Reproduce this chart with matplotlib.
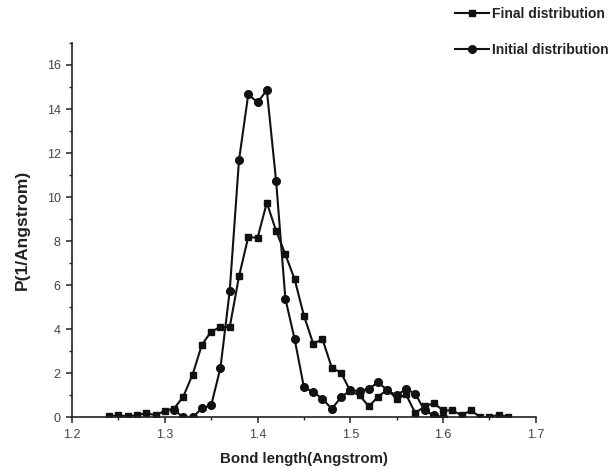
import matplotlib
matplotlib.use("Agg")
import matplotlib.pyplot as plt
from matplotlib.ticker import MultipleLocator

plt.rcParams['font.family'] = ['Liberation Sans', 'DejaVu Sans']

final_x = [1.24, 1.25, 1.26, 1.27, 1.28, 1.29, 1.30, 1.31, 1.32, 1.33, 1.34, 1.35,
           1.36, 1.37, 1.38, 1.39, 1.40, 1.41, 1.42, 1.43, 1.44, 1.45, 1.46, 1.47,
           1.48, 1.49, 1.50, 1.51, 1.52, 1.53, 1.54, 1.55, 1.56, 1.57, 1.58, 1.59,
           1.60, 1.61, 1.62, 1.63, 1.64, 1.65, 1.66, 1.67]
final_y = [0.05, 0.1, 0.05, 0.1, 0.2, 0.1, 0.3, 0.4, 0.95, 1.95, 3.3, 3.9,
           4.1, 4.1, 6.4, 8.2, 8.15, 9.75, 8.47, 7.4, 6.27, 4.62, 3.35, 3.55,
           2.26, 2.03, 1.2, 1.0, 0.5, 0.95, 1.26, 0.85, 1.05, 0.2, 0.5, 0.65,
           0.32, 0.32, 0.1, 0.32, 0.02, 0.02, 0.12, 0.02]

initial_x = [1.31, 1.32, 1.33, 1.34, 1.35, 1.36, 1.37, 1.38, 1.39, 1.40, 1.41, 1.42,
             1.43, 1.44, 1.45, 1.46, 1.47, 1.48, 1.49, 1.50, 1.51, 1.52, 1.53, 1.54,
             1.55, 1.56, 1.57, 1.58, 1.59, 1.60]
initial_y = [0.35, 0.0, 0.0, 0.42, 0.55, 2.25, 5.74, 11.68, 14.67, 14.3, 14.86, 10.73,
             5.39, 3.55, 1.37, 1.15, 0.85, 0.39, 0.92, 1.23, 1.2, 1.3, 1.6, 1.23,
             1.0, 1.3, 1.08, 0.32, 0.1, 0.0]

fig = plt.figure(figsize=(6.16, 4.72), dpi=100)
ax = fig.add_axes([0.1169, 0.1155, 0.753, 0.7935])

col = '#111111'
ax.plot(final_x, final_y, '-s', color=col, lw=1.5, ms=5, label='Final distribution')
ax.plot(initial_x, initial_y, '-o', color=col, lw=1.5, ms=5.5, label='Initial distribution')

ax.set_xlim(1.2, 1.7)
ax.set_ylim(0, 17)
ax.xaxis.set_minor_locator(MultipleLocator(0.05))
ax.yaxis.set_minor_locator(MultipleLocator(1))
ax.set_xticks([1.2, 1.3, 1.4, 1.5, 1.6, 1.7])
ax.set_xticklabels(['1.2', '1.3', '1.4', '1.5', '1.6', '1.7'])
ax.set_yticks(range(0, 17, 2))

for s in ['top', 'right']:
    ax.spines[s].set_visible(False)
for s in ['left', 'bottom']:
    ax.spines[s].set_linewidth(1.2)
    ax.spines[s].set_color('#222222')

ax.tick_params(which='major', direction='out', length=4.3, width=1.1, colors='#222222',
               labelsize=9, labelcolor='#444444', pad=3.8)
ax.tick_params(which='minor', direction='out', length=2.3, width=1.0, colors='#222222')

ax.set_xlabel('Bond length(Angstrom)', fontsize=10.8, fontweight='bold', color='#222222', labelpad=8)
ax.set_ylabel('P(1/Angstrom)', fontsize=12.5, fontweight='bold', color='#222222', labelpad=12)

leg = fig.legend(loc='upper left', bbox_to_anchor=(0.7386, 0.985), frameon=False,
                 prop={'family': ['Liberation Sans Narrow', 'Liberation Sans'],
                       'weight': 'bold', 'size': 10},
                 handlelength=2.45, handletextpad=0.25, labelspacing=1.6,
                 borderpad=0, borderaxespad=0)
for t in leg.get_texts():
    t.set_color('#222222')

fig.savefig('out.png', dpi=100)
